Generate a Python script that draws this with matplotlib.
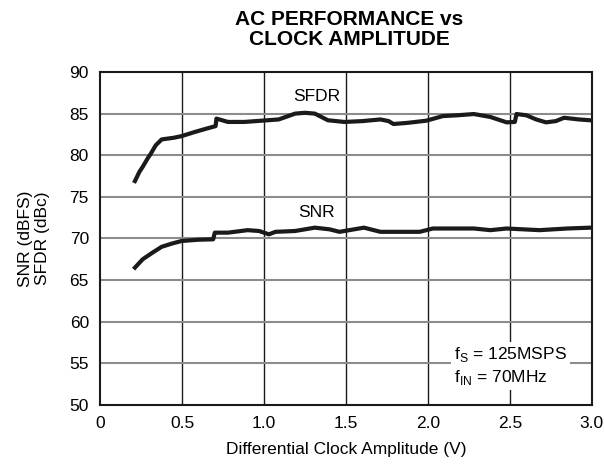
import matplotlib
matplotlib.use("Agg")
import matplotlib.pyplot as plt

plt.rcParams['font.family'] = ['Liberation Sans', 'DejaVu Sans']

# SFDR curve (dBc)
sfdr_x = [0.213, 0.24, 0.26, 0.29, 0.31, 0.34, 0.376, 0.45, 0.498, 0.579, 0.65, 0.705, 0.71,
          0.78, 0.88, 0.986, 1.09, 1.19, 1.25, 1.31, 1.39, 1.49, 1.60, 1.71, 1.76, 1.79,
          1.88, 1.99, 2.09, 2.18, 2.28, 2.38, 2.48, 2.53, 2.54, 2.60, 2.66, 2.72, 2.78,
          2.83, 2.92, 2.99]
sfdr_y = [76.9, 78.0, 78.6, 79.6, 80.2, 81.2, 81.9, 82.1, 82.3, 82.8, 83.2, 83.5, 84.4,
          84.0, 84.0, 84.15, 84.3, 85.0, 85.1, 85.0, 84.2, 84.0, 84.1, 84.3, 84.1, 83.75,
          83.9, 84.15, 84.7, 84.8, 84.95, 84.6, 83.95, 84.0, 84.95, 84.8, 84.3, 83.95, 84.1,
          84.5, 84.3, 84.2]

# SNR curve (dBFS)
snr_x = [0.213, 0.26, 0.32, 0.376, 0.44, 0.498, 0.60, 0.69, 0.70, 0.78, 0.90, 0.97,
         1.03, 1.07, 1.19, 1.31, 1.40, 1.46, 1.52, 1.61, 1.71, 1.80, 1.95, 2.03, 2.15,
         2.28, 2.38, 2.48, 2.58, 2.68, 2.85, 2.99]
snr_y = [66.5, 67.5, 68.3, 69.0, 69.4, 69.7, 69.85, 69.9, 70.7, 70.7, 71.0, 70.9,
         70.5, 70.8, 70.9, 71.3, 71.1, 70.8, 71.0, 71.3, 70.8, 70.8, 70.8, 71.2, 71.2,
         71.2, 71.0, 71.2, 71.1, 71.0, 71.2, 71.3]

x_ticks = [0, 0.5, 1.0, 1.5, 2.0, 2.5, 3.0]
x_labels = ['0', '0.5', '1.0', '1.5', '2.0', '2.5', '3.0']
y_ticks = [50, 55, 60, 65, 70, 75, 80, 85, 90]

fig = plt.figure(figsize=(6.04, 4.73), dpi=100)
ax = fig.add_axes([0.1656, 0.1438, 0.8144, 0.704])

# grid: vertical lines dark, horizontal gray
for xv in x_ticks[1:-1]:
    ax.axvline(xv, color='#1a1a1a', lw=1.0, zorder=1)
for yv in y_ticks[1:-1]:
    ax.axhline(yv, color='#8c8c8c', lw=1.5, zorder=1)

ax.plot(sfdr_x, sfdr_y, color='#1a1a1a', lw=3.0, solid_joinstyle='round', zorder=3)
ax.plot(snr_x, snr_y, color='#1a1a1a', lw=3.0, solid_joinstyle='round', zorder=3)

ax.text(1.32, 87.1, 'SFDR', fontsize=12.5, ha='center', va='center')
ax.text(1.32, 73.1, 'SNR', fontsize=12.5, ha='center', va='center')

ax.text(2.16, 56.1, r'f$_\mathregular{S}$ = 125MSPS', fontsize=12.5, ha='left', va='center',
        bbox=dict(facecolor='white', edgecolor='none', pad=2), zorder=4)
ax.text(2.16, 53.3, r'f$_\mathregular{IN}$ = 70MHz', fontsize=12.5, ha='left', va='center',
        bbox=dict(facecolor='white', edgecolor='none', pad=2), zorder=4)

ax.set_xlim(0, 3.0)
ax.set_ylim(50, 90)
ax.set_xticks(x_ticks)
ax.set_xticklabels(x_labels)
ax.set_yticks(y_ticks)
ax.tick_params(length=0, labelsize=12.5, pad=8)
for s in ax.spines.values():
    s.set_linewidth(1.5)
    s.set_color('#1a1a1a')

ax.set_xlabel('Differential Clock Amplitude (V)', fontsize=12.5, labelpad=8)
ax.set_ylabel('SNR (dBFS)\nSFDR (dBc)', fontsize=12.5, labelpad=14, linespacing=1.15)
fig.suptitle('AC PERFORMANCE vs\nCLOCK AMPLITUDE', fontsize=15, fontweight='bold',
             x=0.578, y=0.978, linespacing=1.05)

fig.savefig('out.png', dpi=100)
